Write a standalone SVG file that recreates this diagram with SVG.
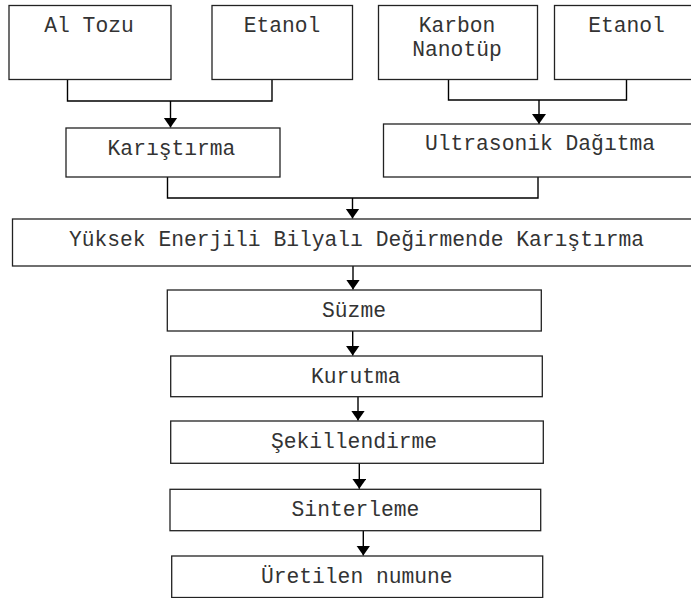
<svg xmlns="http://www.w3.org/2000/svg" width="691" height="598" viewBox="0 0 691 598">
<style>
.box{fill:#fff;stroke:#222;stroke-width:1.3}
.ln{fill:none;stroke:#000;stroke-width:1.4}
.t{font-family:"Liberation Mono","Courier New",monospace;font-size:21.3px;fill:#333;text-anchor:middle}
</style>
<defs>
<marker id="ah" markerUnits="userSpaceOnUse" markerWidth="11" markerHeight="15" refX="10" refY="7" orient="auto">
<path d="M0,0 L10,7 L0,14 z" fill="#000"/>
</marker>
</defs>
<rect width="691" height="598" fill="#fff"/>
<g id="connectors">
<path class="ln" d="M67.5 79.5 V101 H272 V79.5"/>
<path class="ln" d="M170.5 101 V127.5" marker-end="url(#ah)"/>
<path class="ln" d="M448.5 79.5 V100 H626.5 V79.5"/>
<path class="ln" d="M539 100 V124" marker-end="url(#ah)"/>
<path class="ln" d="M167.5 177 V198 H538 V177"/>
<path class="ln" d="M352.5 198 V218.5" marker-end="url(#ah)"/>
<path class="ln" d="M353 266 V289.5" marker-end="url(#ah)"/>
<path class="ln" d="M352.7 331 V355.5" marker-end="url(#ah)"/>
<path class="ln" d="M358 397 V420.5" marker-end="url(#ah)"/>
<path class="ln" d="M359.3 463.3 V488.8" marker-end="url(#ah)"/>
<path class="ln" d="M363.3 530.7 V555.5" marker-end="url(#ah)"/>
</g>
<g id="al-tozu"><rect class="box" x="9" y="5.5" width="162" height="74"/><text class="t" x="89" y="32">Al Tozu</text></g>
<g id="etanol-1"><rect class="box" x="212" y="5.5" width="140.5" height="74"/><text class="t" x="282" y="32">Etanol</text></g>
<g id="karbon"><rect class="box" x="378.5" y="5.5" width="159" height="74"/><text class="t" x="457" y="32">Karbon</text><text class="t" x="457" y="56">Nanotüp</text></g>
<g id="etanol-2"><rect class="box" x="554.5" y="5.5" width="145" height="74"/><text class="t" x="626.5" y="32">Etanol</text></g>
<g id="karistirma"><rect class="box" x="66" y="128" width="214" height="49"/><text class="t" x="171.5" y="155">Karıştırma</text></g>
<g id="ultrasonik"><rect class="box" x="383.5" y="124" width="315" height="53"/><text class="t" x="540" y="150">Ultrasonik Dağıtma</text></g>
<g id="yuksek"><rect class="box" x="12.5" y="219" width="688" height="47"/><text class="t" x="356.5" y="246">Yüksek Enerjili Bilyalı Değirmende Karıştırma</text></g>
<g id="suzme"><rect class="box" x="167.3" y="290" width="374" height="41"/><text class="t" x="354" y="317">Süzme</text></g>
<g id="kurutma"><rect class="box" x="170.7" y="356" width="371.6" height="40.7"/><text class="t" x="355.8" y="383">Kurutma</text></g>
<g id="sekillendirme"><rect class="box" x="170.7" y="421" width="372.6" height="42.3"/><text class="t" x="354" y="448">Şekillendirme</text></g>
<g id="sinterleme"><rect class="box" x="170" y="489.3" width="370.7" height="41.4"/><text class="t" x="355.5" y="516">Sinterleme</text></g>
<g id="uretilen"><rect class="box" x="171.7" y="556" width="371" height="41.5"/><text class="t" x="356.8" y="583">Üretilen numune</text></g>
</svg>
